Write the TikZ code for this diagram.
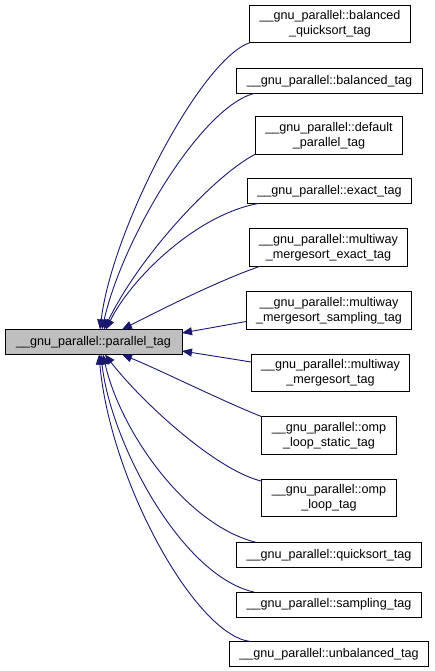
\documentclass[tikz,border=0pt]{standalone}
\usepackage{fontspec}
\setmainfont{Liberation Sans}
\usetikzlibrary{arrows.meta}

\definecolor{edgeblue}{RGB}{25,25,112}
\definecolor{rootgray}{RGB}{191,191,191}

\tikzset{
  tagbox/.style={draw=black, line width=0.9pt, inner xsep=10pt, inner ysep=2pt,
    outer sep=0pt, align=center, minimum height=25pt,
    font=\fontsize{12.6}{15}\selectfont},
  twoline/.style={minimum height=37.5pt},
  tagedge/.style={draw=edgeblue, line width=0.9pt,
    -{Triangle[length=10pt,width=8pt]}}
}

\begin{document}
\begin{tikzpicture}[x=1pt,y=-1pt]
				\useasboundingbox (0,0) rectangle (435,671);
				
				\node[tagbox, fill=rootgray, minimum width=177pt] (ptag) at (93.5,342) {\_\_gnu\_parallel::parallel\_tag};
				
				\node[tagbox, twoline] (bqs) at (330,24) {\_\_gnu\_parallel::balanced\\\_quicksort\_tag};
				\node[tagbox] (bal) at (329.5,81) {\_\_gnu\_parallel::balanced\_tag};
				\node[tagbox, twoline] (def) at (329,135.5) {\_\_gnu\_parallel::default\\\_parallel\_tag};
				\node[tagbox] (exa) at (329.5,191) {\_\_gnu\_parallel::exact\_tag};
				\node[tagbox, twoline] (mme) at (328.5,247.5) {\_\_gnu\_parallel::multiway\\\_mergesort\_exact\_tag};
				\node[tagbox, twoline] (mms) at (329,310.5) {\_\_gnu\_parallel::multiway\\\_mergesort\_sampling\_tag};
				\node[tagbox, twoline] (mmt) at (330.5,373) {\_\_gnu\_parallel::multiway\\\_mergesort\_tag};
				\node[tagbox, twoline] (ols) at (329,435.5) {\_\_gnu\_parallel::omp\\\_loop\_static\_tag};
				\node[tagbox, twoline] (olt) at (329,498) {\_\_gnu\_parallel::omp\\\_loop\_tag};
				\node[tagbox] (qs) at (329,555) {\_\_gnu\_parallel::quicksort\_tag};
				\node[tagbox] (sam) at (329,604.5) {\_\_gnu\_parallel::sampling\_tag};
				\node[tagbox] (unb) at (329,654) {\_\_gnu\_parallel::unbalanced\_tag};
				
				% edges above the root
				\draw[tagedge] (bqs.south west) .. controls (200,60) and (112,230) .. ([xshift=6.5pt]ptag.north);
				\draw[tagedge] ([xshift=17pt]bal.south west) .. controls (200,108) and (122,240) .. ([xshift=8.5pt]ptag.north);
				\draw[tagedge] (def.south west) .. controls (215,175) and (140,255) .. ([xshift=10.5pt]ptag.north);
				\draw[tagedge] ([xshift=11pt]exa.south west) .. controls (195,215) and (130,280) .. ([xshift=12.5pt]ptag.north);
				\draw[tagedge] ([xshift=11pt]mme.south west) .. controls (220,280) and (160,310) .. ([xshift=28.5pt]ptag.north);
				
				% edges to the right side
				\draw[tagedge] ([yshift=-11pt]mms.west) -- ([yshift=9pt]ptag.east);
				\draw[tagedge] ([yshift=11pt]mmt.west) -- ([yshift=-9pt]ptag.east);
				
				% edges below the root
				\draw[tagedge] (ols.north west) .. controls (220,400) and (160,370) .. ([xshift=28.5pt]ptag.south);
				\draw[tagedge] ([yshift=-2pt]olt.north west) .. controls (215,470) and (140,400) .. ([xshift=11.5pt]ptag.south);
				\draw[tagedge] ([xshift=20pt]qs.north west) .. controls (185,525) and (120,430) .. ([xshift=9.5pt]ptag.south);
				\draw[tagedge] ([xshift=17pt]sam.north west) .. controls (180,575) and (110,440) .. ([xshift=7.5pt]ptag.south);
				\draw[tagedge] ([xshift=21pt]unb.north west) .. controls (195,635) and (110,480) .. ([xshift=5.5pt]ptag.south);
			\end{tikzpicture}
\end{document}
